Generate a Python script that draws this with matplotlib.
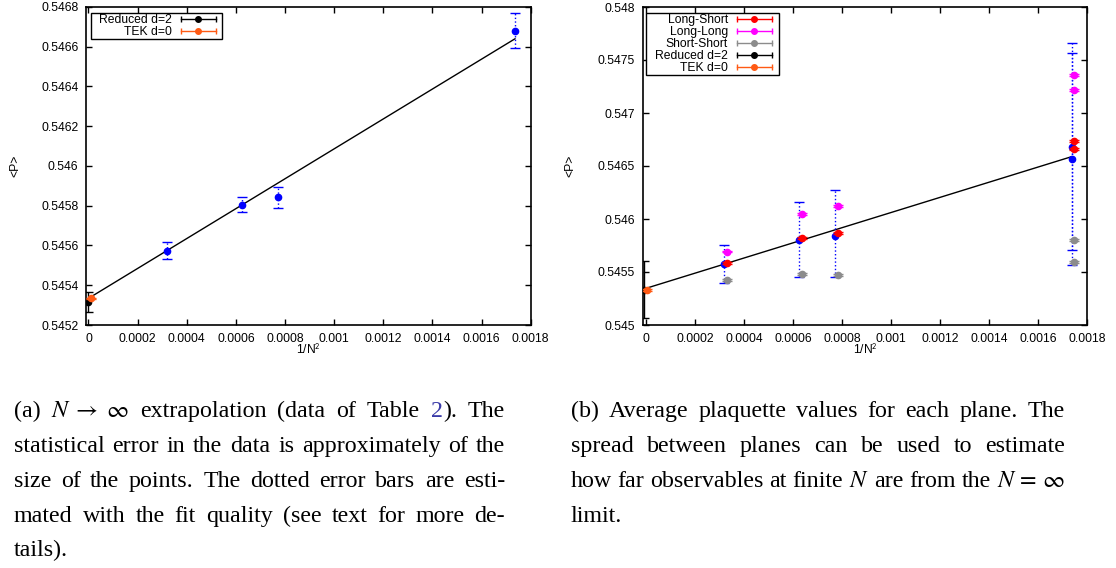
import matplotlib
matplotlib.use('Agg')
import matplotlib.pyplot as plt
from matplotlib.lines import Line2D
from matplotlib.patches import Rectangle
from matplotlib.legend_handler import HandlerBase
from matplotlib.ticker import FuncFormatter, MultipleLocator

# ---------------- data ----------------
inv_n2 = [0.000319, 0.000625, 0.000772, 0.001736]

# panel (a)
a_blue_y = [0.545574, 0.545805, 0.545842, 0.546681]
a_blue_err = [0.000044, 0.000038, 0.000053, 0.000087]
a_reduced_x = [0.0]
a_reduced_y = [0.545317]
a_reduced_err = [0.00005]
a_tek_x = [0.000011]
a_tek_y = [0.545334]
a_tek_err = [0.000004]
a_fit_x = [0.0, 0.001736]
a_fit_y = [0.545334, 0.546640]

# panel (b)
b_blue_x = [0.000319, 0.000625, 0.000772, 0.001736, 0.001736]
b_blue_y = [0.545575, 0.545802, 0.545840, 0.546676, 0.546566]
b_blue_low = [0.545399, 0.545450, 0.545450, 0.545566, 0.545708]
b_blue_high = [0.545755, 0.546158, 0.546274, 0.547658, 0.547563]
b_plane_x = [0.000329, 0.000636, 0.000783, 0.001747, 0.001747]
long_short = [0.545582, 0.545821, 0.545865, 0.546739, 0.546660]
long_long = [0.545692, 0.546047, 0.546125, 0.547359, 0.547217]
short_short = [0.545425, 0.545478, 0.545472, 0.545802, 0.545597]
plane_err = [0.000008, 0.000008, 0.000008, 0.000008, 0.000008]
b_reduced_x = [-0.000007]
b_reduced_y = [0.545334]
b_reduced_err = [0.00027]
b_tek_x = [0.000005]
b_tek_y = [0.545330]
b_tek_err = [0.000008]
b_fit_x = [0.0, 0.001736]
b_fit_y = [0.545346, 0.546588]

legend_a = ['Reduced d=2', 'TEK d=0']
legend_b = ['Long-Short', 'Long-Long', 'Short-Short', 'Reduced d=2', 'TEK d=0']

C_BLUE = '#0000ff'
C_RED = '#ff0000'
C_MAG = '#ff00ff'
C_GRAY = '#8c8c8c'
C_BLACK = '#000000'
C_ORANGE = '#ff5a14'
C_LINK = '#3a3aa8'

# ---------------- setup ----------------
plt.rcParams['font.family'] = ['Liberation Sans', 'DejaVu Sans']
plt.rcParams['mathtext.fontset'] = 'stix'

W, H = 1116, 568
fig = plt.figure(figsize=(W / 100, H / 100), dpi=100)
renderer = fig.canvas.get_renderer()

TICK_FS = 8.7


def px_axes(x0, x1, ytop, ybot):
    return fig.add_axes([x0 / W, 1 - ybot / H, (x1 - x0) / W, (ybot - ytop) / H])


fmt = FuncFormatter(lambda v, p: '%g' % (round(v, 8) + 0.0))


def style(ax, xlim, ylim, ystep):
    ax.set_xlim(xlim)
    ax.set_ylim(ylim)
    ax.xaxis.set_major_locator(MultipleLocator(0.0002))
    ax.yaxis.set_major_locator(MultipleLocator(ystep))
    ax.xaxis.set_major_formatter(fmt)
    ax.yaxis.set_major_formatter(fmt)
    ax.tick_params(direction='in', top=True, right=True, length=4.5, width=1,
                   labelsize=TICK_FS, pad=5.5, colors='black')
    for s in ax.spines.values():
        s.set_linewidth(1.2)


class HErr(HandlerBase):
    def create_artists(self, legend, orig_handle, xdescent, ydescent, width,
                       height, fontsize, trans):
        c = orig_handle.get_color()
        y = height / 2 - ydescent
        x0, x1 = -xdescent, width - xdescent
        l = Line2D([x0, x1], [y, y], color=c, lw=1, transform=trans)
        caps = Line2D([x0, x1], [y, y], ls='none', marker='|', ms=5, mew=1,
                      color=c, transform=trans)
        dot = Line2D([(x0 + x1) / 2], [y], marker='o', ms=4, color=c,
                     ls='none', transform=trans)
        return [l, caps, dot]


def add_legend(ax, labels, colors, right_px, top_px, box_right_px, box_top_px):
    handles = [Line2D([], [], color=c) for c in colors]
    leg = ax.legend(handles, labels, loc='upper right',
                    bbox_to_anchor=(right_px / W, 1 - top_px / H),
                    bbox_transform=fig.transFigure,
                    borderaxespad=0, markerfirst=False, fontsize=TICK_FS,
                    handler_map={Line2D: HErr()}, handlelength=2.9,
                    handletextpad=0.72, labelspacing=0.0, borderpad=0.0,
                    frameon=False)
    leg.set_zorder(6)
    bb = leg.get_window_extent(renderer)
    x0 = bb.x0 - 8.7
    x1 = box_right_px
    ytop = H - box_top_px
    ybot = bb.y0 - 1.0
    rect = Rectangle((x0 / W, ybot / H), (x1 - x0) / W, (ytop - ybot) / H,
                     transform=fig.transFigure, facecolor='white',
                     edgecolor='black', lw=1.0, zorder=5.5, clip_on=False)
    ax.add_patch(rect)
    return leg


def dotted_err(ax, x, y, yerr, color):
    eb = ax.errorbar(x, y, yerr=yerr, fmt='o', color=color, ms=4.5,
                     elinewidth=1, capsize=3.5, capthick=1, zorder=3)
    eb[2][0].set_linestyle(':')
    return eb


def solid_err(ax, x, y, yerr, color, z=4):
    return ax.errorbar(x, y, yerr=yerr, fmt='o', color=color, ms=4.5,
                       elinewidth=1, capsize=3.5, capthick=1, zorder=z)


# ---------------- panel (a) ----------------
axa = px_axes(86, 530.7, 7, 325)
style(axa, (-0.00001, 0.0018), (0.5452, 0.5468), 0.0002)
axa.plot(a_fit_x, a_fit_y, color='black', lw=1, zorder=2)
dotted_err(axa, inv_n2, a_blue_y, a_blue_err, C_BLUE)
solid_err(axa, a_reduced_x, a_reduced_y, a_reduced_err, C_BLACK)
solid_err(axa, a_tek_x, a_tek_y, a_tek_err, C_ORANGE, z=5)
add_legend(axa, legend_a, [C_BLACK, C_ORANGE], 216, 14.0, 222, 12.7)

# ---------------- panel (b) ----------------
axb = px_axes(642.7, 1087.3, 7, 325)
style(axb, (-0.0000135, 0.0018), (0.545, 0.548), 0.0005)
axb.plot(b_fit_x, b_fit_y, color='black', lw=1, zorder=2)
b_lo = [yv - lv for yv, lv in zip(b_blue_y, b_blue_low)]
b_hi = [hv - yv for yv, hv in zip(b_blue_y, b_blue_high)]
dotted_err(axb, b_blue_x, b_blue_y, [b_lo, b_hi], C_BLUE)
solid_err(axb, b_plane_x, long_short, plane_err, C_RED)
solid_err(axb, b_plane_x, long_long, plane_err, C_MAG)
solid_err(axb, b_plane_x, short_short, plane_err, C_GRAY)
solid_err(axb, b_reduced_x, b_reduced_y, b_reduced_err, C_BLACK)
solid_err(axb, b_tek_x, b_tek_y, b_tek_err, C_ORANGE, z=5)
add_legend(axb, legend_b, [C_RED, C_MAG, C_GRAY, C_BLACK, C_ORANGE],
           771.7, 14.0, 779, 12.7)

# axis labels
for xc, yc in [(15, 166), (570, 166)]:
    fig.text(xc / W, 1 - yc / H, '<P>', rotation=90, ha='center', va='center',
             fontsize=TICK_FS)
for xc in [308.5, 865]:
    fig.text(xc / W, 1 - 349.5 / H, r'1/N$^2$', ha='center', va='center',
             fontsize=TICK_FS, math_fontfamily='stixsans')

# ---------------- captions ----------------
CAP_FS = 17.3


def caption(lines, x0, x1, y0, dy):
    for i, (words, justify) in enumerate(lines):
        yb = y0 + i * dy
        items = []
        for w in words:
            segs = w if isinstance(w, list) else [(w, 'black')]
            objs = []
            wtot = 0.0
            for s, c in segs:
                t = fig.text(0, 1 - yb / H, s, fontsize=CAP_FS,
                             family='Liberation Serif', color=c,
                             va='baseline', ha='left')
                bw = t.get_window_extent(renderer).width
                objs.append((t, bw))
                wtot += bw
            items.append((objs, wtot))
        total = sum(wt for _, wt in items)
        n = len(items)
        if justify and n > 1:
            gap = (x1 - x0 - total) / (n - 1)
        else:
            gap = 0.25 * CAP_FS * 100 / 72
        x = x0
        for objs, wt in items:
            xx = x
            for t, bw in objs:
                t.set_x(xx / W)
                xx += bw
            x += wt + gap


cap_a = [
    (['(a)', r'$N\;\rightarrow\;\infty$', 'extrapolation', '(data', 'of', 'Table',
      [('2', C_LINK), (').', 'black')], 'The'], True),
    ('statistical error in the data is approximately of the'.split(), True),
    ('size of the points. The dotted error bars are esti-'.split(), True),
    ('mated with the fit quality (see text for more de-'.split(), True),
    (['tails).'], False),
]
cap_b = [
    ('(b) Average plaquette values for each plane. The'.split(), True),
    ('spread between planes can be used to estimate'.split(), True),
    (['how', 'far', 'observables', 'at', 'finite', '$N$', 'are', 'from', 'the',
      r'$N\,=\,\infty$'], True),
    (['limit.'], False),
]
caption(cap_a, 14, 505, 417.3, 34.8)
caption(cap_b, 570.7, 1065, 417.3, 34.8)

fig.savefig('out.png', dpi=100)
